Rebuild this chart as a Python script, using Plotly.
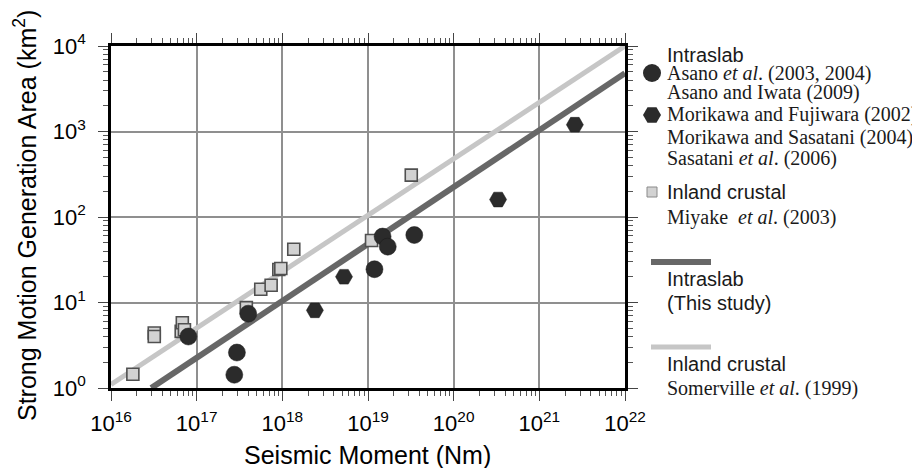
import plotly.graph_objects as go

# ---------------- data ----------------
asano_moment = [8.0e16, 2.75e17, 2.95e17, 4.0e17, 1.19e19, 1.48e19, 1.7e19, 3.47e19]
asano_area = [4.0, 1.43, 2.6, 7.4, 24.5, 59, 45, 61.6]

morikawa_moment = [2.4e18, 5.25e18, 3.3e20, 2.6e21]
morikawa_area = [8.1, 20, 160, 1200]

miyake_moment = [1.8e16, 3.2e16, 3.2e16, 6.6e16, 6.8e16, 7.2e16, 3.8e17, 5.6e17,
                 7.4e17, 9.1e17, 9.6e17, 1.36e18, 1.1e19, 3.2e19]
miyake_area = [1.45, 4.4, 4.0, 4.6, 5.8, 4.8, 8.7, 14.3, 15.9, 24.3, 25, 42, 53, 309]

intraslab_line_moment = [2.95e16, 1e22]
intraslab_line_area = [1.0, 4800]

crustal_line_moment = [1e16, 1e22]
crustal_line_area = [1.1, 1e4]

x_tick_vals = [1e16, 1e17, 1e18, 1e19, 1e20, 1e21, 1e22]
x_tick_text = ["10<sup>16</sup>", "10<sup>17</sup>", "10<sup>18</sup>", "10<sup>19</sup>",
               "10<sup>20</sup>", "10<sup>21</sup>", "10<sup>22</sup>"]
y_tick_vals = [1, 10, 100, 1000, 10000]
y_tick_text = ["10<sup>0</sup>", "10<sup>1</sup>", "10<sup>2</sup>", "10<sup>3</sup>",
               "10<sup>4</sup>"]

x_title = "Seismic Moment (Nm)"
y_title = "Strong Motion Generation Area (km<sup>2</sup>)"

# ---------------- styling ----------------
SANS = "Liberation Sans"
SERIF = "Liberation Serif"
DARK = "#2b2b2b"
LINE_DARK = "#676767"
LINE_LIGHT = "#c6c6c6"
SQ_FILL = "#d2d2d2"
SQ_EDGE = "#505050"

OFF = 8  # page body margin
W, H = 920 - OFF, 468 - OFF
# plot area in screen pixels
SL, SR, ST, SB = 111, 625, 46, 388
L, R, T, B = SL - OFF, SR - OFF, ST - OFF, SB - OFF

fig = go.Figure()

fig.add_trace(go.Scatter(x=crustal_line_moment, y=crustal_line_area, mode="lines",
                         line=dict(color=LINE_LIGHT, width=5), showlegend=False,
                         hoverinfo="skip"))
fig.add_trace(go.Scatter(x=intraslab_line_moment, y=intraslab_line_area, mode="lines",
                         line=dict(color=LINE_DARK, width=6), showlegend=False,
                         hoverinfo="skip"))
fig.add_trace(go.Scatter(x=miyake_moment, y=miyake_area, mode="markers",
                         marker=dict(symbol="square", size=12, color=SQ_FILL,
                                     line=dict(color=SQ_EDGE, width=1.6)),
                         showlegend=False))
fig.add_trace(go.Scatter(x=asano_moment, y=asano_area, mode="markers",
                         marker=dict(symbol="circle", size=17, color=DARK,
                                     line=dict(color="#1a1a1a", width=0.5)),
                         showlegend=False))
fig.add_trace(go.Scatter(x=morikawa_moment, y=morikawa_area, mode="markers",
                         marker=dict(symbol="hexagon2", size=17, color=DARK,
                                     line=dict(color="#1a1a1a", width=0.5)),
                         showlegend=False))

axis_common = dict(
    type="log",
    automargin=False,
    showline=True, linecolor="black", linewidth=2.5, mirror="allticks",
    ticks="outside", ticklen=10, tickwidth=1.2, tickcolor="#444",
    showgrid=True, gridcolor="#8f8f8f", gridwidth=1.5,
    zeroline=False,
    tickfont=dict(family=SANS, size=22, color="black"),
    minor=dict(ticks="outside", ticklen=5, tickwidth=1, tickcolor="#555",
               dtick="D1", showgrid=False),
)

fig.update_xaxes(**axis_common, range=[16, 22], tickmode="array",
                 tickvals=x_tick_vals, ticktext=x_tick_text, ticklabelstandoff=4)
fig.update_yaxes(**axis_common, range=[0, 4], tickmode="array",
                 tickvals=y_tick_vals, ticktext=y_tick_text, ticklabelstandoff=8)


# ---------------- helpers: screen pixels -> paper ----------------
def px(xp):
    return (xp - SL) / (SR - SL)


def py(yp):
    return (SB - yp) / (SB - ST)


# axis titles
fig.add_annotation(text=x_title, xref="paper", yref="paper", x=px(367), y=py(455),
                   xanchor="center", yanchor="middle", showarrow=False,
                   font=dict(family=SANS, size=25, color="black"))
fig.add_annotation(text=y_title, xref="paper", yref="paper", x=px(25), y=py(216),
                   xanchor="center", yanchor="middle", showarrow=False, textangle=-90,
                   font=dict(family=SANS, size=25, color="black"))

# ---------------- custom legend ----------------
legend_rows = [
    ("Intraslab", SANS, 55),
    ("Asano <i>et al</i>. (2003, 2004)", SERIF, 73),
    ("Asano and Iwata (2009)", SERIF, 92),
    ("Morikawa and Fujiwara (2002)", SERIF, 115),
    ("Morikawa and Sasatani (2004)", SERIF, 137),
    ("Sasatani <i>et al</i>. (2006)", SERIF, 158),
    ("Inland crustal", SANS, 192),
    ("Miyake  <i>et al</i>. (2003)", SERIF, 217),
    ("Intraslab", SANS, 279),
    ("(This study)", SANS, 303),
    ("Inland crustal", SANS, 364),
    ("Somerville <i>et al</i>. (1999)", SERIF, 388),
]
for text, fam, ypix in legend_rows:
    fig.add_annotation(text=text, xref="paper", yref="paper", x=px(665), y=py(ypix),
                       xanchor="left", yanchor="middle", showarrow=False,
                       font=dict(family=fam, size=20, color="#1a1a1a"))

# legend symbols
cx = 652
fig.add_shape(type="circle", xref="paper", yref="paper",
              x0=px(cx - 9), x1=px(cx + 9), y0=py(73 + 9), y1=py(73 - 9),
              fillcolor=DARK, line=dict(color=DARK, width=0))
hy, hr = 115, 9
hexpts = [(cx - hr, hy), (cx - hr / 2, hy - 0.866 * hr), (cx + hr / 2, hy - 0.866 * hr),
          (cx + hr, hy), (cx + hr / 2, hy + 0.866 * hr), (cx - hr / 2, hy + 0.866 * hr)]
path = "M " + " L ".join(f"{px(a):.5f},{py(b):.5f}" for a, b in hexpts) + " Z"
fig.add_shape(type="path", xref="paper", yref="paper", path=path,
              fillcolor=DARK, line=dict(color=DARK, width=0))
fig.add_shape(type="rect", xref="paper", yref="paper",
              x0=px(cx - 5), x1=px(cx + 5), y0=py(192 + 5), y1=py(192 - 5),
              fillcolor=SQ_FILL, line=dict(color="#8a8a8a", width=1))
fig.add_shape(type="line", xref="paper", yref="paper",
              x0=px(651), x1=px(711), y0=py(262), y1=py(262),
              line=dict(color=LINE_DARK, width=6))
fig.add_shape(type="line", xref="paper", yref="paper",
              x0=px(651), x1=px(711), y0=py(347), y1=py(347),
              line=dict(color=LINE_LIGHT, width=5))

fig.update_layout(
    width=W, height=H,
    margin=dict(l=L, r=W - R, t=T, b=H - B),
    paper_bgcolor="white", plot_bgcolor="white",
    showlegend=False,
)

fig.write_html("out.html")
